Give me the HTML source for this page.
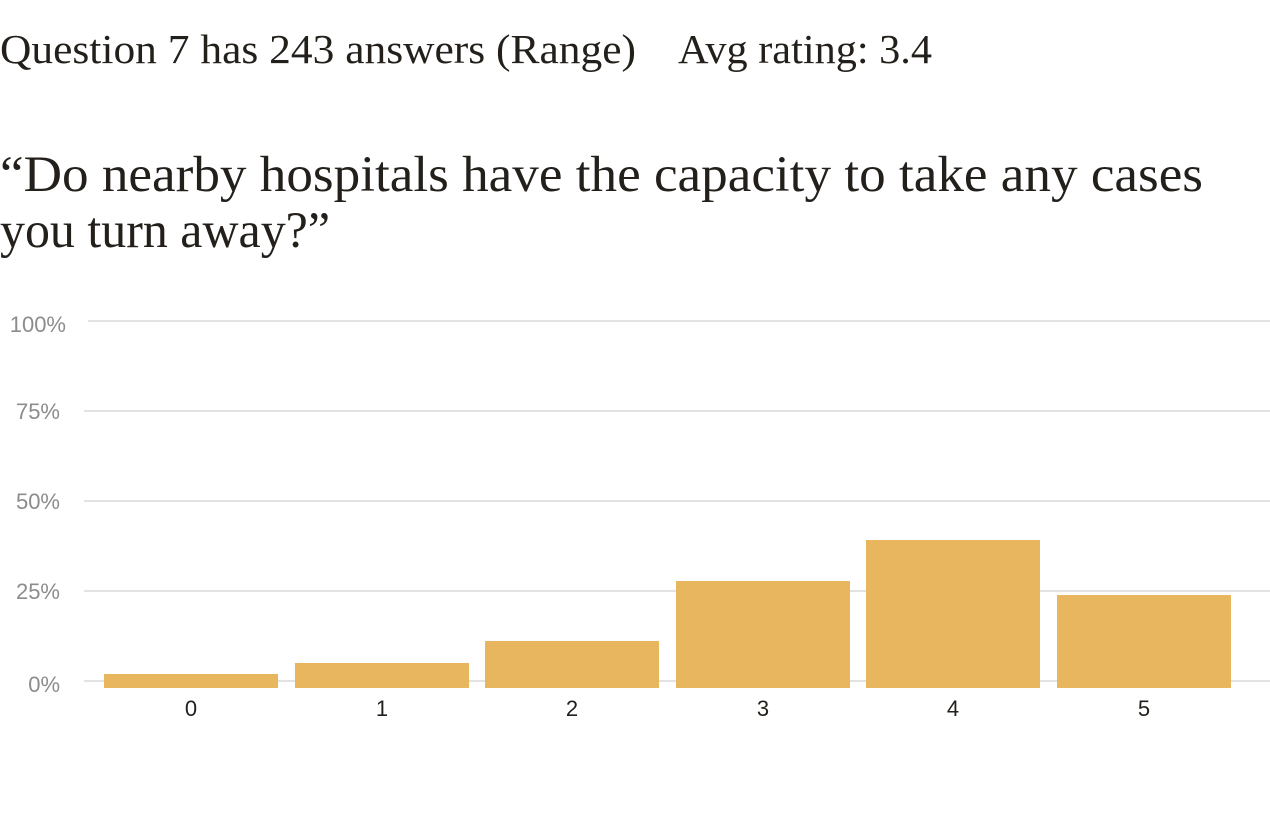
<!DOCTYPE html>
<html><head><meta charset="utf-8"><style>
html,body{margin:0;padding:0;background:#fff;}
svg{display:block}
</style></head><body>
<svg width="1270" height="824" xmlns="http://www.w3.org/2000/svg">
<g font-family="Liberation Serif, serif" fill="#231f1a">
<text x="0" y="63" font-size="41" textLength="636" lengthAdjust="spacingAndGlyphs">Question 7 has 243 answers (Range)</text>
<text x="678" y="63" font-size="41" textLength="254" lengthAdjust="spacingAndGlyphs">Avg rating: 3.4</text>
<text x="0" y="191" font-size="51" textLength="1203" lengthAdjust="spacingAndGlyphs">“Do nearby hospitals have the capacity to take any cases</text>
<text x="0" y="247" font-size="51" textLength="330" lengthAdjust="spacingAndGlyphs">you turn away?”</text>
</g>
<g stroke="#d9d9d9" stroke-width="1.5">
<line x1="88" y1="321" x2="1270" y2="321"/>
<line x1="84" y1="411" x2="1270" y2="411"/>
<line x1="84" y1="501" x2="1270" y2="501"/>
<line x1="84" y1="591" x2="1270" y2="591"/>
<line x1="84" y1="681" x2="1270" y2="681"/>
</g>
<g font-family="Liberation Sans, sans-serif" font-size="22" fill="#8c8c8c" text-anchor="end">
<text x="66" y="332">100%</text>
<text x="60" y="419">75%</text>
<text x="60" y="509">50%</text>
<text x="60" y="599">25%</text>
<text x="60" y="692">0%</text>
</g>
<g fill="#e8b65f">
<rect x="104" y="674" width="174" height="14"/>
<rect x="295" y="663" width="174" height="25"/>
<rect x="485" y="641" width="174" height="47"/>
<rect x="676" y="581" width="174" height="107"/>
<rect x="866" y="540" width="174" height="148"/>
<rect x="1057" y="595" width="174" height="93"/>
</g>
<g font-family="Liberation Sans, sans-serif" font-size="22" fill="#231f1a" text-anchor="middle">
<text x="191" y="716">0</text>
<text x="382" y="716">1</text>
<text x="572" y="716">2</text>
<text x="763" y="716">3</text>
<text x="953" y="716">4</text>
<text x="1144" y="716">5</text>
</g>
</svg>
</body></html>
